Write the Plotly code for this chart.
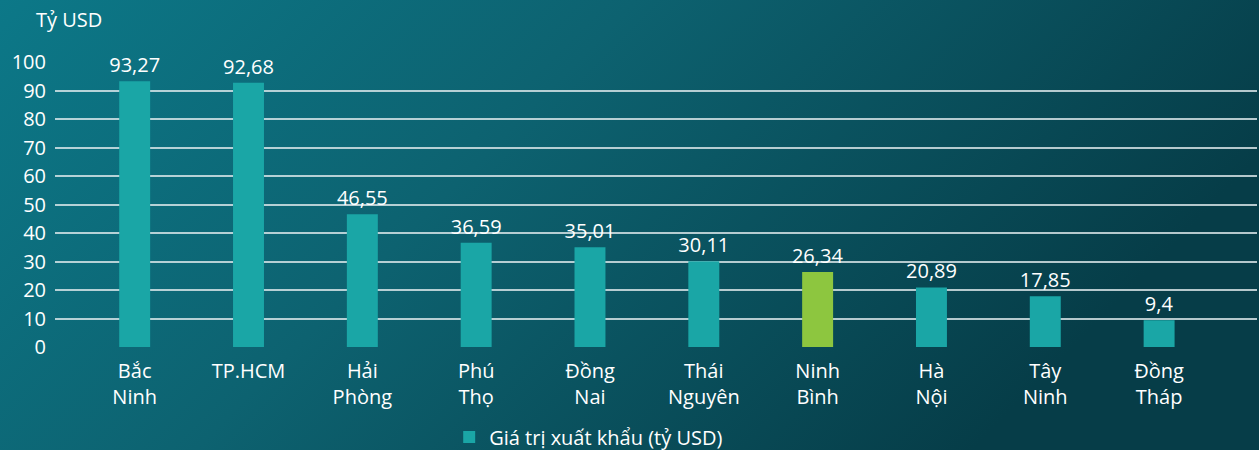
import base64
import plotly.graph_objects as go

categories = ["Bắc<br>Ninh", "TP.HCM", "Hải<br>Phòng", "Phú<br>Thọ", "Đồng<br>Nai",
              "Thái<br>Nguyên", "Ninh<br>Bình", "Hà<br>Nội", "Tây<br>Ninh", "Đồng<br>Tháp"]
values = [93.27, 92.68, 46.55, 36.59, 35.01, 30.11, 26.34, 20.89, 17.85, 9.4]
highlight = "Ninh<br>Bình"
series_name = "Giá trị xuất khẩu (tỷ USD)"
y_ticks = [0, 10, 20, 30, 40, 50, 60, 70, 80, 90, 100]

TEAL = "#1aa6a6"
GREEN = "#8dc63f"
FONT = "Open Sans"

colors = [GREEN if c == highlight else TEAL for c in categories]
labels = [str(v).replace(".", ",") for v in values]

W, H = 1259, 450
ml, mr, mt, mb = 55, 2, 62, 103
pw, ph = W - ml - mr, H - mt - mb

svg = f'''<svg xmlns="http://www.w3.org/2000/svg" width="{W}" height="{H}" preserveAspectRatio="none">
<defs><linearGradient id="g" x1="0" y1="0" x2="1" y2="0.35">
<stop offset="0" stop-color="#0c7888"/>
<stop offset="0.45" stop-color="#0d6270"/>
<stop offset="1" stop-color="#063d48"/>
</linearGradient></defs>
<rect width="{W}" height="{H}" fill="url(#g)"/>
</svg>'''
src = "data:image/svg+xml;base64," + base64.b64encode(svg.encode()).decode()

fig = go.Figure()
fig.add_trace(go.Bar(
    x=categories, y=values, name=series_name,
    marker=dict(color=colors, line=dict(width=0)),
    width=0.272,
    text=labels, textposition="outside", cliponaxis=False, constraintext="none",
    textfont=dict(color="white", size=20, family=FONT),
    showlegend=True,
))

fig.update_layout(
    width=W, height=H,
    margin=dict(l=ml, r=mr, t=mt, b=mb, pad=0, autoexpand=False),
    paper_bgcolor="#0a5a68",
    plot_bgcolor="rgba(0,0,0,0)",
    font=dict(family=FONT, color="white", size=20),
    images=[dict(source=src, xref="paper", yref="paper",
                 x=-ml / pw, y=1 + mt / ph, sizex=W / pw, sizey=H / ph,
                 xanchor="left", yanchor="top", sizing="stretch", layer="below")],
    xaxis=dict(range=[-0.7, 9.86], showgrid=False, zeroline=False, showline=False,
               ticks="", ticklabelstandoff=10,
               tickfont=dict(size=20, color="white", family=FONT)),
    yaxis=dict(range=[0, 100], tickvals=y_ticks, showgrid=True,
               gridcolor="rgba(225,235,238,0.8)", gridwidth=1.5,
               zeroline=False, showline=False, ticks="", ticklabelstandoff=8,
               tickfont=dict(size=20, color="white", family=FONT)),
    legend=dict(orientation="h", x=0.444, xanchor="center", y=-0.316, yanchor="middle",
                font=dict(size=20, color="white", family=FONT),
                bgcolor="rgba(0,0,0,0)", itemwidth=30),
    annotations=[dict(text="Tỷ USD", xref="paper", yref="paper",
                      x=-21 / pw, y=1 + 42 / ph, xanchor="left", yanchor="middle",
                      showarrow=False, font=dict(size=20, color="white", family=FONT))],
    bargap=0.7,
)

fig.write_html("out.html", config={"displayModeBar": False},
               post_script="document.body.style.margin='0';document.body.style.overflow='hidden';")
